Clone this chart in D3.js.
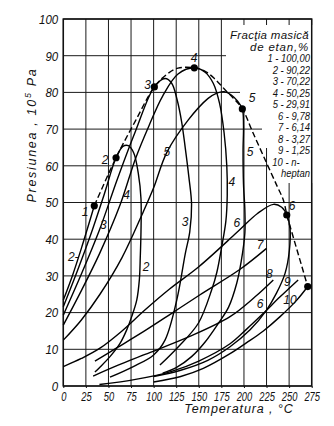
<!DOCTYPE html>
<html>
<head>
<meta charset="utf-8">
<script src="https://cdn.jsdelivr.net/npm/d3@7"></script>
<style>
body { margin: 0; background: #fff; }
text { font-family: "Liberation Sans", Arial, sans-serif; font-style: italic; fill: #111; }
</style>
</head>
<body>
<div id="chart"></div>
<script>
var width = 334, height = 426;

// axis ticks
var tempTicks = [0, 25, 50, 75, 100, 125, 150, 175, 200, 225, 250, 275];
var presTicks = [0, 10, 20, 30, 40, 50, 60, 70, 80, 90, 100];

// curves, [temperature °C, pressure 10^5 Pa]
var curve1 = [[0,23.4],[10,30],[20,37.5],[34.3,49.1]];
var curve2 = [[0,21.6],[15,31],[30,41],[45,52],[58.4,62.2],[66,65.3],[72,65.5],[78,63.5],[83,58],[86,51],[86,42],[85.2,35],[84.2,29],[81.3,23.4],[75.7,18.9],[70.2,15.3],[62.8,11.6],[51.7,8],[40,5],[35,3.8]];
var curve3 = [[0,19.3],[20,30.5],[40,42.5],[60,56.5],[80,69.5],[100.8,81.5],[112.7,83.8],[120,82.5],[126,78],[131,72],[135,64.9],[139,57],[142,49.5],[140,42],[135,36],[125.6,23.4],[112.6,12.5],[99.7,8.4],[77.5,5.3],[51.7,2.4]];
var curve4 = [[0,16.6],[20,26],[40,36],[62.8,49.3],[80,62],[95,71],[110,79],[127,85],[145,86.7],[157,85.5],[166,82.5],[173,77],[178,69],[181,60],[181.5,52],[180,45],[175.4,38],[170,31],[164.3,26.2],[149.5,17.1],[127.4,10.7],[107,5.7]];
var curve5 = [[0,12.5],[20,18],[40.6,25],[65,35],[88.6,47.5],[100,54],[114.5,63.6],[138.4,72.5],[160,78.3],[170,79.8],[178,80.2],[186,79.3],[193,77.6],[198.2,75.5],[199.5,71],[199,64],[199.5,55],[201,48],[201,41.6],[197,34],[192,28],[183,21.5],[171.7,17.1],[157,12],[142,8],[125,5],[110,3.5]];
var curve6 = [[0,5.3],[20,7.5],[40.6,10.3],[65,15],[90.3,20.7],[118,26.5],[150,32.5],[192,41.8],[215,47],[232.6,49.5],[241.8,48.7],[247.4,46.6],[251,43],[250.3,37],[245.5,30.7],[236,25.3],[225,20.7],[206.8,15.3],[184.6,10.7],[160,7],[130,4.3],[100,2.6]];
var curve7 = [[35,6.8],[60,10.5],[90,15],[120,19.8],[151,24.8],[195.7,31.8],[225,37.5]];
var curve8 = [[33,2.7],[60,5.6],[90.5,8.6],[140,13.5],[184.6,18.9],[212.3,24.3],[232.5,28.9]];
var curve9 = [[40,0.4],[80,1.8],[120,4],[150,6.8],[184.6,11.5],[203,15.5],[221.5,19.8],[240,24.3],[260,28.9]];
var curve10 = [[100,1.1],[130,2.6],[155,4.8],[184.6,8.8],[203,11.8],[221.5,15],[240,18.9],[258.5,23.4],[270.6,27.1]];

// critical points and the dashed locus through them
var critPoints = [[34.3,49.1],[58.4,62.2],[100.8,81.5],[145,86.7],[198.2,75.5],[247.4,46.6],[270.6,27.1]];
var critNames = ["1","2","3","4","5","6",""];
var critLocus = [[34.3,49.1],[58.4,62.2],[80,72.3],[100.8,81.5],[115,85],[127,86.6],[145,86.7],[158,85.6],[168,83.6],[178,81],[188,78.5],[198.2,75.5],[210,69],[225,60.8],[237,54.3],[243.6,50.7],[247.4,46.6]];
var critTail = [[247.4,46.6],[270.6,27.1]];

// numbers written along the curves
var curveLabels = [
  {t:"2-", x:11, y:35.2}, {t:"3", x:44.3, y:43.9}, {t:"4", x:70.2, y:52}, {t:"5", x:114.5, y:63.8},
  {t:"2", x:91.6, y:32.5}, {t:"3", x:134.8, y:44.8}, {t:"4", x:186.5, y:55.7}, {t:"5", x:206.8, y:63.8},
  {t:"6", x:192, y:44.5}, {t:"7", x:217.8, y:38.5}, {t:"8", x:228, y:30.5}, {t:"6", x:217.8, y:22.5},
  {t:"9", x:248, y:28.3}, {t:"10", x:251, y:23.6}
];
var critLabelPos = [[24,47.5],[46.2,61.6],[93.2,82],[144.7,89.4],[209,78.5],[253.3,49]];

var legendTitle = ["Fracţia masică", "de  etan,%"];
var legendItems = ["1 - 100,00", "2 - 90,22", "3 - 70,22", "4 - 50,25", "5 - 29,91", "6 -   9,78", "7 -   6,14", "8 -   3,27", "9 -   1,25", "10 - n-", "heptan"];

var svg = d3.select("#chart").append("svg")
	.attr("width", width)
	.attr("height", height);

var x = d3.scaleLinear().domain([0, 275]).range([63.3, 311.7]);
var y = d3.scaleLinear().domain([0, 100]).range([386, 19]);

//grid
var grid = svg.append("g").attr("class", "grid");
grid.selectAll("line.v").data(tempTicks).enter().append("line")
	.attr("x1", function(d){ return x(d); })
	.attr("x2", function(d){ return x(d); })
	.attr("y1", y(0))
	.attr("y2", y(100))
	.attr("stroke", "#1a1a1a")
	.attr("stroke-width", 1);
grid.selectAll("line.h").data(presTicks).enter().append("line")
	.attr("x1", x(0))
	.attr("x2", x(275))
	.attr("y1", function(d){ return y(d); })
	.attr("y2", function(d){ return y(d); })
	.attr("stroke", "#1a1a1a")
	.attr("stroke-width", 1);

//white area behind legend (grid is left out there)
svg.append("polygon")
	.attr("points", "226,25 313,25 313,183 268,183 268,148 262,148 262,110 240,110 240,73 226,73")
	.attr("fill", "#fff");

//frame
svg.append("rect")
	.attr("x", x(0)).attr("y", y(100))
	.attr("width", x(275) - x(0)).attr("height", y(0) - y(100))
	.attr("fill", "none")
	.attr("stroke", "#111")
	.attr("stroke-width", 1.5);

//axes labels
var xAxis = d3.axisBottom(x).tickValues(tempTicks).tickSize(2).tickPadding(4);
var xg = svg.append("g").attr("transform", "translate(0," + y(0) + ")").call(xAxis);
var yAxis = d3.axisLeft(y).tickValues(presTicks).tickSize(0).tickPadding(6);
var yg = svg.append("g").attr("transform", "translate(" + x(0) + ",0)").call(yAxis);
[xg, yg].forEach(function(g){
	g.select(".domain").remove();
	g.selectAll("line").attr("stroke", "#111");
	g.selectAll("text")
		.attr("fill", "#111")
		.style("font-family", "Liberation Sans, Arial, sans-serif")
		.style("font-style", "italic");
});
xg.selectAll("text").style("font-size", "12px").attr("transform", "scale(0.78,1)");
yg.selectAll("text").style("font-size", "13.5px").attr("transform", "scale(0.85,1)");

svg.append("text")
	.attr("x", 239).attr("y", 413)
	.attr("text-anchor", "middle")
	.style("font-size", "12.5px")
	.style("letter-spacing", "0.9px")
	.text("Temperatura , °C");

var yt = svg.append("text")
	.attr("transform", "translate(36,135) rotate(-90)")
	.attr("text-anchor", "middle")
	.style("font-size", "12.5px")
	.style("letter-spacing", "1.7px");
yt.append("tspan").text("Presiunea ,  10");
yt.append("tspan").attr("dy", -5).style("font-size", "9px").text("5");
yt.append("tspan").attr("dy", 5).text(" Pa");

//curves
var line = d3.line()
	.x(function(d){ return x(d[0]); })
	.y(function(d){ return y(d[1]); })
	.curve(d3.curveCatmullRom.alpha(0.5));

var curves = [curve1, curve2, curve3, curve4, curve5, curve6, curve7, curve8, curve9, curve10];
svg.append("g").selectAll("path").data(curves).enter().append("path")
	.attr("d", line)
	.attr("fill", "none")
	.attr("stroke", "#000")
	.attr("stroke-width", 1.4);

//critical locus
svg.append("path")
	.attr("d", line(critLocus))
	.attr("fill", "none")
	.attr("stroke", "#000")
	.attr("stroke-width", 1.4)
	.attr("stroke-dasharray", "6,3");
svg.append("path")
	.attr("d", d3.line().x(function(d){ return x(d[0]); }).y(function(d){ return y(d[1]); })(critTail))
	.attr("fill", "none")
	.attr("stroke", "#000")
	.attr("stroke-width", 1.4)
	.attr("stroke-dasharray", "6,3");

svg.append("g").selectAll("circle").data(critPoints).enter().append("circle")
	.attr("cx", function(d){ return x(d[0]); })
	.attr("cy", function(d){ return y(d[1]); })
	.attr("r", 3.6)
	.attr("fill", "#000");

svg.append("g").selectAll("text").data(critLabelPos).enter().append("text")
	.attr("x", function(d){ return x(d[0]); })
	.attr("y", function(d){ return y(d[1]); })
	.attr("dy", "0.35em")
	.attr("text-anchor", "middle")
	.style("font-size", "12px")
	.text(function(d, i){ return critNames[i]; });

svg.append("g").selectAll("text").data(curveLabels).enter().append("text")
	.attr("x", function(d){ return x(d.x); })
	.attr("y", function(d){ return y(d.y); })
	.attr("dy", "0.35em")
	.attr("text-anchor", "middle")
	.style("font-size", "12px")
	.text(function(d){ return d.t; });

//legend
var legend = svg.append("g").attr("id", "legend");
legend.selectAll("text.title").data(legendTitle).enter().append("text")
	.attr("x", 309)
	.attr("y", function(d, i){ return 39 + i * 12.3; })
	.attr("text-anchor", "end")
	.style("font-size", "11.5px")
	.style("letter-spacing", function(d, i){ return i ? "0.8px" : "0.3px"; })
	.text(function(d){ return d; });
var items = legend.append("g").attr("transform", "translate(310,0) scale(0.86,1)");
items.selectAll("text").data(legendItems).enter().append("text")
	.attr("x", function(d, i){ return i == legendItems.length - 2 ? -12 : 0; })
	.attr("y", function(d, i){ return 62.5 + i * 11.5; })
	.attr("text-anchor", "end")
	.style("font-size", "11px")
	.text(function(d){ return d; });
</script>
</body>
</html>
